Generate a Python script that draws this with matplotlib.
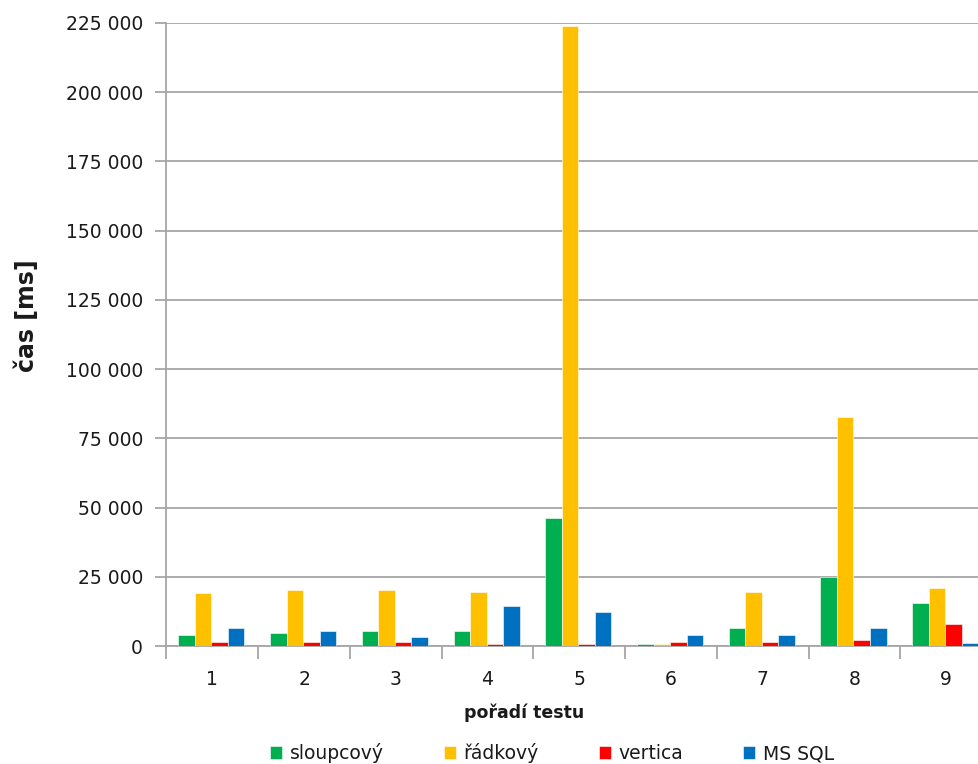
import matplotlib
matplotlib.use("Agg")
from matplotlib import pyplot as plt
from matplotlib.ticker import FuncFormatter, MultipleLocator
import numpy as np

# test order on the x axis
tests = [1, 2, 3, 4, 5, 6, 7, 8, 9]

# measured times [ms]
sloupcovy = [3900, 4600, 5400, 5400, 46200, 700, 6600, 24800, 15600]
radkovy = [19000, 20200, 20200, 19600, 224000, 700, 19600, 82800, 20800]
vertica = [1400, 1400, 1400, 700, 700, 1400, 1400, 2000, 7800]
mssql = [6600, 5400, 3400, 14400, 12400, 4000, 4000, 6600, 1200]

series = [
    ('sloupcový', sloupcovy, '#00B050'),
    ('řádkový', radkovy, '#FFC000'),
    ('vertica', vertica, '#FF0000'),
    ('MS SQL', mssql, '#0070C0'),
]

plt.rcParams['font.family'] = 'DejaVu Sans'
plt.rcParams['text.color'] = '#1a1a1a'
plt.rcParams['xtick.labelcolor'] = '#1a1a1a'
plt.rcParams['ytick.labelcolor'] = '#1a1a1a'
fig = plt.figure(figsize=(9.79, 7.64), dpi=100)
# plot area runs a bit past the right edge of the figure
ax = fig.add_axes([166.5 / 979, 118 / 764, (992 - 166.5) / 979, 623 / 764])

x = np.arange(len(tests)) + 1
width = 0.18
for i, (name, vals, color) in enumerate(series):
    ax.bar(x + (i - 1.5) * width - 0.01, vals, width, color=color, label=name,
           edgecolor='white', linewidth=0.4, zorder=3)

ax.set_xlim(0.5, len(tests) + 0.5)
ax.set_ylim(0, 225000)
ax.yaxis.set_major_locator(MultipleLocator(25000))
ax.yaxis.set_major_formatter(FuncFormatter(lambda v, p: f'{int(v):,}'.replace(',', ' ')))
ax.grid(axis='y', color='#A6A6A6', linewidth=1.3, zorder=0)

ax.set_xticks(x)
ax.set_xticklabels([str(t) for t in tests])
ax.set_xticks(np.arange(len(tests) + 1) + 0.5, minor=True)
ax.tick_params(axis='x', which='major', length=0, pad=17.5, labelsize=13.5)
ax.tick_params(axis='x', which='minor', length=9, width=1.3, color='#A6A6A6')
ax.tick_params(axis='y', length=8, width=1.3, color='#A6A6A6', pad=9, labelsize=13.5)

for side in ['top', 'right']:
    ax.spines[side].set_visible(False)
for side in ['left', 'bottom']:
    ax.spines[side].set_color('#A6A6A6')
    ax.spines[side].set_linewidth(1.3)

fig.text(27 / 979, 1 - 316 / 764, 'čas [ms]', rotation=90, fontsize=17,
         fontweight='bold', ha='center', va='center')
fig.text(524 / 979, 1 - 713 / 764, 'pořadí testu', fontsize=12.5,
         fontweight='bold', ha='center', va='center')

fig.legend(loc='center', bbox_to_anchor=(552 / 979, 1 - 753 / 764), ncol=4,
           frameon=False, fontsize=13.5, handlelength=0.65, handleheight=0.65,
           handletextpad=0.4, columnspacing=3.2)

plt.savefig('out.png', dpi=100)
